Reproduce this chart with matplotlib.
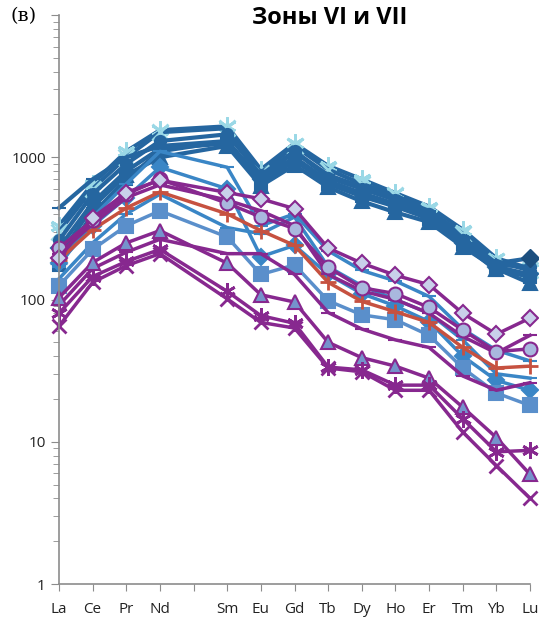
import numpy as np
import matplotlib.pyplot as plt
from matplotlib.ticker import LogLocator, NullFormatter, FixedLocator

elements = ["La", "Ce", "Pr", "Nd", "", "Sm", "Eu", "Gd", "Tb", "Dy", "Ho", "Er", "Tm", "Yb", "Lu"]

# chondrite-normalised values, Pm is missing (None)
blue_a = [330, 650, 1100, 1550, None, 1650, 820, 1250, 870, 700, 560, 450, 310, 195, 165]
blue_b = [300, 600, 1000, 1500, None, 1600, 780, 1200, 820, 650, 540, 420, 290, 185, 160]
blue_c = [440, 700, 1000, 1200, None, 1300, 700, 1100, 750, 620, 520, 420, 270, 180, 195]
blue_d = [200, 450, 750, 1000, None, 1200, 630, 880, 615, 490, 410, 350, 235, 165, 130]
blue_e = [230, 480, 800, 1150, None, 1250, 700, 1000, 680, 560, 470, 380, 250, 170, 150]
blue_f = [175, 400, 700, 1100, None, 1300, 650, 950, 650, 530, 450, 370, 245, 160, 145]
blue_g = [260, 550, 900, 1300, None, 1450, 750, 1100, 720, 600, 500, 400, 260, 175, 170]

mid_h = [170, 380, 650, 1100, None, 850, 330, 400, 220, 160, 135, 105, 62, 44, 37]
mid_i = [140, 250, 400, 550, None, 320, 290, 380, 170, 125, 100, 80, 52, 30, 28]
mid_j = [180, 330, 520, 850, None, 600, 200, 240, 150, 110, 90, 70, 40, 27, 23]
light_sq = [125, 225, 330, 420, None, 275, 150, 175, 98, 78, 72, 56, 33, 22, 18]

red = [190, 310, 440, 570, None, 400, 305, 240, 132, 97, 82, 69, 46, 33, 34]

purple_diam = [197, 375, 565, 690, None, 565, 510, 435, 230, 180, 148, 127, 80, 57, 74]
purple_circ = [230, 360, 550, 700, None, 475, 380, 315, 168, 121, 110, 88, 61, 43, 45]
purple_o = [210, 340, 520, 640, None, 500, 420, 330, 150, 115, 100, 80, 55, 42, 56]
purple_tri = [103, 182, 250, 305, None, 180, 108, 96, 50, 39, 34, 28, 17.5, 10.7, 5.9]
purple_q = [91, 165, 215, 265, None, 210, 210, 150, 81, 62, 52, 46, 29, 23, 26]
purple_ast = [80, 145, 185, 225, None, 114, 77, 68, 33.5, 32, 25, 25, 14.5, 8.5, 8.7]
purple_x = [65, 132, 173, 210, None, 101, 69, 63, 33, 31, 23, 23, 11.7, 6.8, 4.0]

x = np.arange(len(elements))

def arr(v):
    return np.array([np.nan if a is None else a for a in v], dtype=float)

def draw(ax, vals, color, marker, ms, mfc, mec, lw=2.5, mew=1.5):
    y = arr(vals)
    ok = ~np.isnan(y)
    ax.plot(x[ok], y[ok], color=color, lw=lw, marker=marker, ms=ms,
            mfc=mfc, mec=mec, mew=mew, clip_on=False, solid_joinstyle='round')

fig = plt.figure(figsize=(5.39, 6.18), dpi=100)
ax = fig.add_axes([59/539, 1-584/618, (530-59)/539, (584-15)/618])

dark = "#2566a0"
navy = "#1c4f7f"
cyan = "#9ad8e6"
mid = "#3a86c6"
lsq = "#5a8fcb"
redc = "#c65140"
purp = "#87288f"
lav = "#c9d0ea"
tri_fill = "#7593cc"

ast = (6, 2, 0)

draw(ax, blue_a, dark, ast, 13, cyan, cyan, lw=3, mew=2)
draw(ax, blue_b, dark, "x", 11, cyan, cyan, lw=3, mew=2)
draw(ax, blue_f, dark, "s", 8, dark, dark, lw=3)
draw(ax, blue_d, dark, "^", 10, dark, dark, lw=3)
draw(ax, blue_e, dark, "D", 8, dark, dark, lw=3)
draw(ax, blue_g, dark, "o", 8, dark, dark, lw=3)
draw(ax, blue_c, dark, "_", 10, navy, dark, lw=3)
ax.plot(x[-1], blue_c[-1], marker="D", ms=9, color=navy, clip_on=False)

draw(ax, mid_h, mid, "_", 10, mid, mid)
draw(ax, mid_i, mid, "_", 10, mid, mid)
draw(ax, mid_j, mid, "D", 8, mid, mid)
draw(ax, light_sq, lsq, "s", 10, lsq, lsq)

draw(ax, red, redc, "+", 12, redc, redc, mew=2)

draw(ax, purple_o, purp, "_", 10, purp, purp)
draw(ax, purple_q, purp, "_", 10, purp, purp)
draw(ax, purple_circ, purp, "o", 10, "#a9b8de", purp)
draw(ax, purple_diam, purp, "D", 8, lav, purp)
draw(ax, purple_tri, purp, "^", 10, tri_fill, purp)
draw(ax, purple_ast, purp, ast, 12, purp, purp, mew=2)
draw(ax, purple_x, purp, "x", 10, purp, purp, mew=2)

ax.set_yscale("log")
ax.set_ylim(1, 10000)
ax.set_xlim(0, 14)
ax.set_xticks(x)
ax.set_xticklabels(elements)
ax.yaxis.set_major_locator(FixedLocator([1, 10, 100, 1000, 10000]))
ax.set_yticklabels(["1", "10", "100", "1000", ""])
ax.yaxis.set_minor_locator(LogLocator(base=10, subs=np.arange(2, 10)))
ax.yaxis.set_minor_formatter(NullFormatter())

for s in ["top", "right"]:
    ax.spines[s].set_visible(False)
for s in ["left", "bottom"]:
    ax.spines[s].set_color("#8c8c8c")
    ax.spines[s].set_linewidth(1.2)
ax.tick_params(axis="both", which="both", color="#8c8c8c", direction="out")
ax.tick_params(axis="y", which="major", length=6, labelsize=11, labelcolor="#222222")
ax.tick_params(axis="y", which="minor", length=4)
ax.tick_params(axis="x", length=5, labelsize=11, labelcolor="#222222", pad=8)
for t in ax.get_xticklabels() + ax.get_yticklabels():
    t.set_fontfamily("Open Sans")

fig.text(330/539, 1-18/618, "Зоны VI и VII", ha="center", va="center",
         fontsize=17, fontweight="bold", family="Open Sans")
fig.text(10/539, 1-16/618, "(в)", ha="left", va="center", fontsize=14,
         family="DejaVu Serif")

fig.savefig("out.png", dpi=100)
